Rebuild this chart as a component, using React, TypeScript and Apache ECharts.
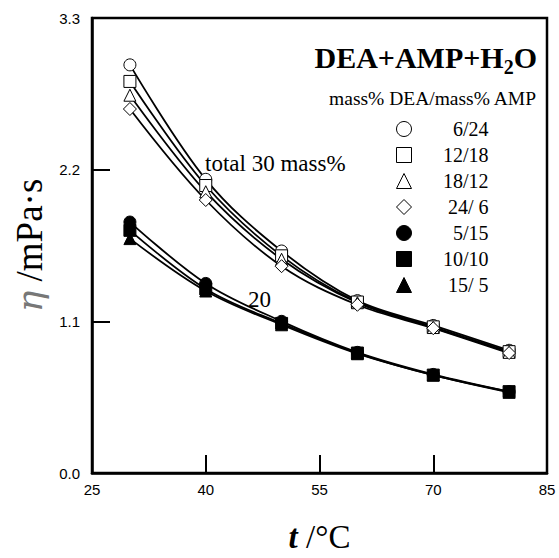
import React, { useEffect, useRef } from 'react';
import * as echarts from 'echarts';

const temps = [30, 40, 50, 60, 70, 80];
const s6_24 = [2.96, 2.13, 1.61, 1.25, 1.07, 0.89];
const s12_18 = [2.84, 2.085, 1.575, 1.24, 1.06, 0.88];
const s18_12 = [2.74, 2.04, 1.55, 1.235, 1.055, 0.875];
const s24_6 = [2.64, 1.98, 1.5, 1.22, 1.05, 0.87];
const s5_15 = [1.82, 1.375, 1.1, 0.875, 0.715, 0.59];
const s10_10 = [1.76, 1.335, 1.085, 0.87, 0.71, 0.59];
const s15_5 = [1.7, 1.32, 1.075, 0.865, 0.71, 0.585];

const seriesNames = ['6/24', '12/18', '18/12', '24/ 6', '5/15', '10/10', '15/ 5'];
const seriesSymbols = ['circle', 'rect', 'triangle', 'diamond', 'circle', 'rect', 'triangle'];
const seriesFilled = [false, false, false, false, true, true, true];
const seriesValues = [s6_24, s12_18, s18_12, s24_6, s5_15, s10_10, s15_5];

const xMin = 25;
const xMax = 85;
const xInterval = 15;
const yMin = 0;
const yMax = 3.3;
const yInterval = 1.1;

const serif = "'Liberation Serif', 'Times New Roman', serif";
const sans = "'Liberation Sans', Arial, sans-serif";

export default function App() {
  const ref = useRef<HTMLDivElement>(null);
  useEffect(() => {
    if (!ref.current) return;
    const chart = echarts.init(ref.current, undefined, { renderer: 'svg' });
    const series = seriesNames.map((name, k) => ({
      name,
      type: 'line',
      data: temps.map((t, i) => [t, seriesValues[k][i]]),
      smooth: 0.35,
      symbol: seriesSymbols[k],
      symbolSize: seriesSymbols[k] === 'diamond' ? 13 : 12,
      showSymbol: true,
      itemStyle: {
        color: seriesFilled[k] ? '#000' : '#fff',
        borderColor: '#000',
        borderWidth: 1,
      },
      lineStyle: { color: '#000', width: 1.8 },
      emphasis: { disabled: true },
      z: 3,
    }));
    chart.setOption({
      animation: false,
      backgroundColor: '#fff',
      grid: {
        left: 92,
        right: 12,
        top: 18,
        bottom: 82,
        show: true,
        borderColor: '#000',
        borderWidth: 2.5,
        backgroundColor: 'transparent',
      },
      legend: {
        orient: 'vertical',
        left: 396,
        top: 119,
        itemWidth: 15,
        itemHeight: 15,
        itemGap: 6,
        padding: 0,
        selectedMode: false,
        data: seriesNames.map((name, k) => ({
          name,
          icon: seriesSymbols[k],
          itemStyle: {
            color: seriesFilled[k] ? '#000' : '#fff',
            borderColor: '#000',
            borderWidth: 1,
          },
        })),
        formatter: (n: string) => `{r|${n}}`,
        textStyle: {
          rich: {
            r: { width: 72, align: 'right', fontSize: 20, fontFamily: serif, color: '#000' },
          },
        },
      },
      xAxis: {
        type: 'value',
        min: xMin,
        max: xMax,
        interval: xInterval,
        axisLine: { show: true, lineStyle: { color: '#000', width: 2.5 } },
        axisTick: { show: true, inside: true, length: 18, lineStyle: { color: '#000', width: 2 } },
        axisLabel: { fontSize: 15, fontFamily: sans, color: '#000', margin: 9 },
        splitLine: { show: false },
        name: '{t|t}{u| /°C}',
        nameLocation: 'middle',
        nameGap: 47,
        nameTextStyle: {
          rich: {
            t: { fontSize: 33, fontStyle: 'italic', fontWeight: 'bold', fontFamily: serif, color: '#000' },
            u: { fontSize: 33, fontFamily: serif, color: '#000' },
          },
        },
      },
      yAxis: {
        type: 'value',
        min: yMin,
        max: yMax,
        interval: yInterval,
        axisLine: { show: true, lineStyle: { color: '#000', width: 2.5 } },
        axisTick: { show: true, inside: true, length: 18, lineStyle: { color: '#000', width: 2 } },
        axisLabel: {
          fontSize: 15,
          fontFamily: sans,
          color: '#000',
          margin: 12,
          formatter: (v: number) => v.toFixed(1),
        },
        splitLine: { show: false },
        name: '{e|η}{u| /mPa·s}',
        nameLocation: 'middle',
        nameGap: 44,
        nameRotate: 90,
        nameTextStyle: {
          rich: {
            e: { fontSize: 36, fontStyle: 'italic', fontFamily: "'DejaVu Serif', serif", color: '#777' },
            u: { fontSize: 37, fontFamily: serif, color: '#000' },
          },
        },
      },
      graphic: [
        {
          type: 'text',
          x: 537,
          y: 57,
          style: {
            text: '{t|DEA+AMP+H}{s|2}{t|O}',
            align: 'right',
            verticalAlign: 'middle',
            rich: {
              t: { fontSize: 30, fontWeight: 'bold', fontFamily: serif, color: '#000', lineHeight: 40 },
              s: { fontSize: 20, fontWeight: 'bold', fontFamily: serif, color: '#000', lineHeight: 20, verticalAlign: 'bottom' },
            },
          },
        },
        {
          type: 'text',
          x: 536,
          y: 98,
          style: {
            text: 'mass% DEA/mass% AMP',
            align: 'right',
            verticalAlign: 'middle',
            fontSize: 19.5,
            fontFamily: serif,
            fill: '#000',
          },
        },
        {
          type: 'text',
          x: 205,
          y: 163,
          style: {
            text: 'total 30 mass%',
            align: 'left',
            verticalAlign: 'middle',
            fontSize: 23,
            fontFamily: serif,
            fill: '#000',
          },
        },
        {
          type: 'text',
          x: 248,
          y: 299,
          style: {
            text: '20',
            align: 'left',
            verticalAlign: 'middle',
            fontSize: 23,
            fontFamily: serif,
            fill: '#000',
          },
        },
      ],
      series,
    });
    return () => chart.dispose();
  }, []);
  return (
    <div
      ref={ref}
      style={{ position: 'absolute', left: 0, top: 0, width: 559, height: 558, background: '#fff' }}
    />
  );
}
